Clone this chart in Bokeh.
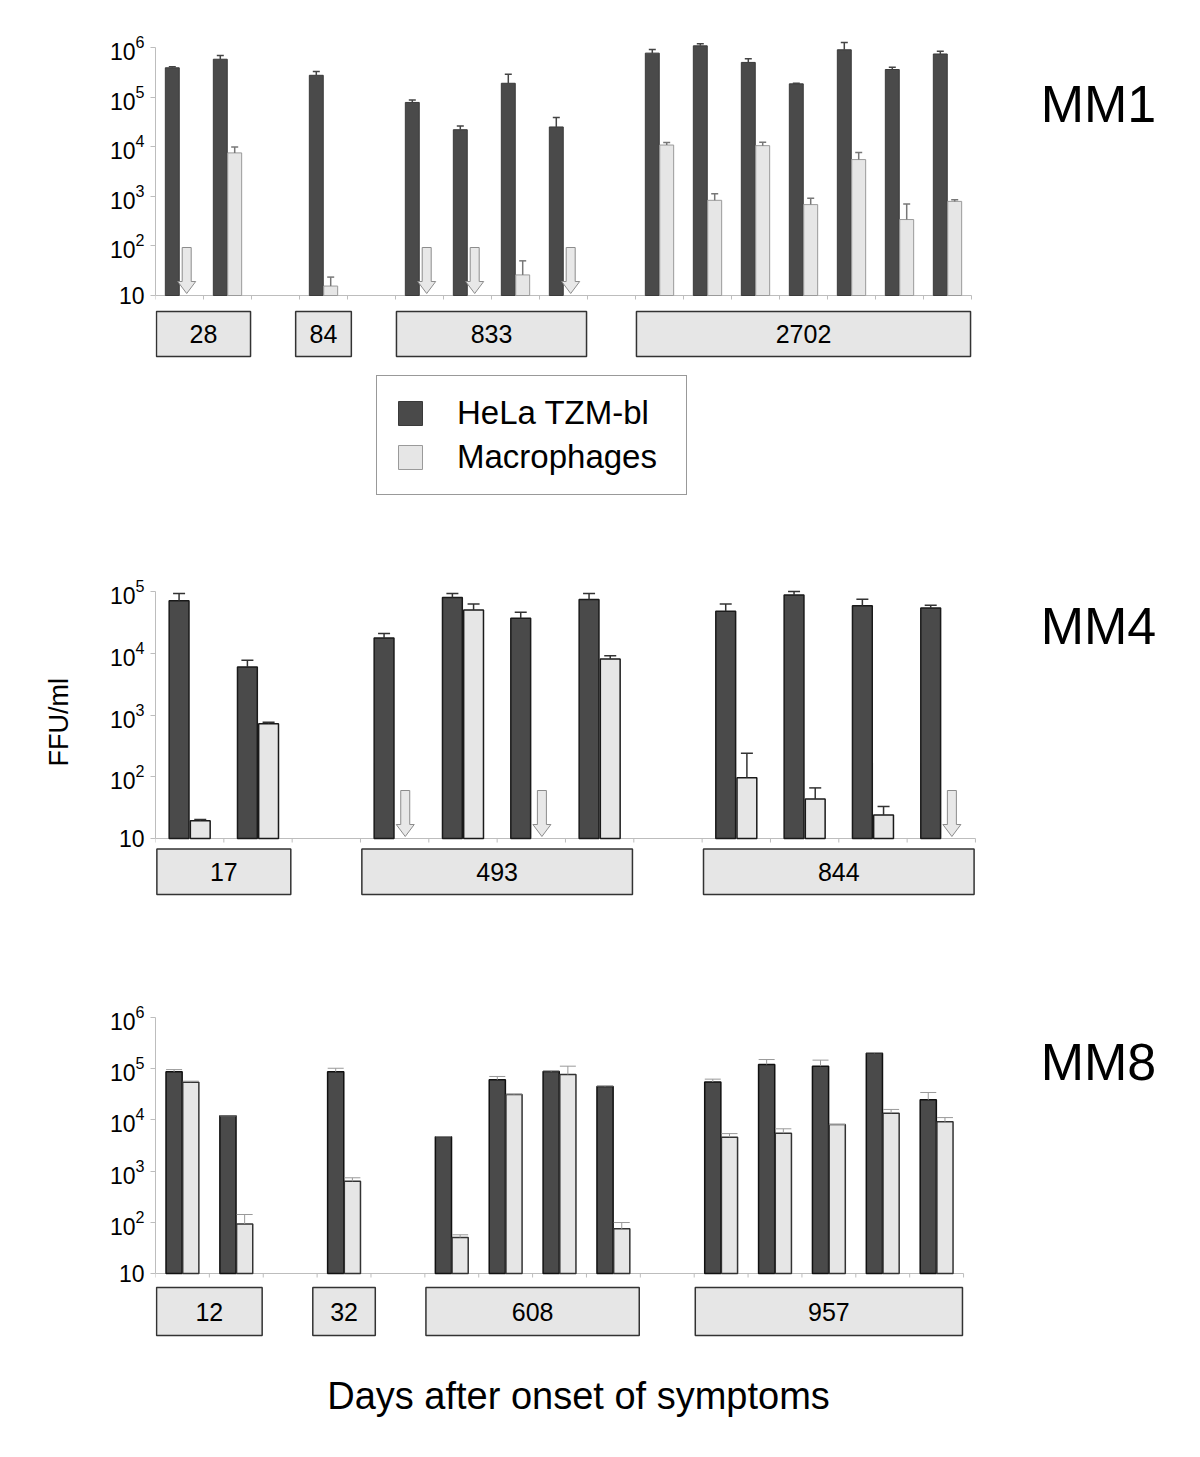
import math
from bokeh.plotting import figure
from bokeh.layouts import column
from bokeh.models import Range1d, Legend, LegendItem, Title
from bokeh.core.properties import value
from bokeh.embed import file_html
from bokeh.resources import INLINE

NAN = float("nan")

# ---------------- data ----------------
series_names = ["HeLa TZM-bl", "Macrophages"]
y_title = "FFU/ml"
x_title = "Days after onset of symptoms"
panel_names = ["MM1", "MM4", "MM8"]

# MM1  (NaN = below detection, drawn as a down arrow)
mm1_slots = [0, 1, 3, 5, 6, 7, 8, 10, 11, 12, 13, 14, 15, 16]
mm1_hela = [3.9e5, 5.8e5, 2.75e5, 7.8e4, 2.2e4, 1.9e5, 2.5e4, 7.7e5, 1.08e6, 5.0e5, 1.85e5, 9.0e5, 3.6e5, 7.4e5]
mm1_hela_err = [4.1e5, 6.9e5, 3.3e5, 8.7e4, 2.6e4, 2.9e5, 3.9e4, 9.1e5, 1.19e6, 5.9e5, 1.9e5, 1.26e6, 4.0e5, 8.4e5]
mm1_mac = [NAN, 7.5e3, 15.5, NAN, NAN, 26, NAN, 1.08e4, 8.3e2, 1.05e4, 6.8e2, 5.5e3, 3.4e2, 7.9e2]
mm1_mac_err = [NAN, 9.9e3, 23.5, NAN, NAN, 50, NAN, 1.21e4, 1.13e3, 1.23e4, 9.1e2, 7.6e3, 7.0e2, 8.5e2]
mm1_groups = ["28", "84", "833", "2702"]
mm1_group_start = [0, 3, 5, 10]
mm1_group_end = [2, 4, 9, 17]
mm1_n_slots = 17
mm1_top_exp = 6

# MM4
mm4_slots = [0, 1, 3, 4, 5, 6, 8, 9, 10, 11]
mm4_hela = [7.1e4, 6.0e3, 1.77e4, 8.0e4, 3.7e4, 7.4e4, 4.8e4, 8.8e4, 5.9e4, 5.4e4]
mm4_hela_err = [9.3e4, 7.7e3, 2.08e4, 9.3e4, 4.6e4, 9.3e4, 6.3e4, 1.0e5, 7.5e4, 6.0e4]
mm4_mac = [19.3, 7.2e2, NAN, 5.0e4, NAN, 8.1e3, 96, 43.5, 24, NAN]
mm4_mac_err = [20.3, 7.6e2, NAN, 6.3e4, NAN, 9.1e3, 2.4e2, 66, 33, NAN]
mm4_groups = ["17", "493", "844"]
mm4_group_start = [0, 3, 8]
mm4_group_end = [2, 7, 12]
mm4_n_slots = 12
mm4_top_exp = 5

# MM8
mm8_slots = [0, 1, 3, 5, 6, 7, 8, 10, 11, 12, 13, 14]
mm8_hela = [8.7e4, 1.2e4, 8.7e4, 4.7e3, 6.1e4, 8.8e4, 4.5e4, 5.5e4, 1.21e5, 1.12e5, 2.0e5, 2.47e4]
mm8_hela_err = [9.6e4, 1.2e4, 1.02e5, 4.7e3, 7.05e4, 9.1e4, 4.6e4, 6.25e4, 1.51e5, 1.47e5, 2.05e5, 3.43e4]
mm8_mac = [5.46e4, 93, 6.3e2, 50.5, 3.13e4, 7.7e4, 74.5, 4.6e3, 5.5e3, 8.1e3, 1.35e4, 9.2e3]
mm8_mac_err = [5.7e4, 142, 7.4e2, 57, 3.2e4, 1.12e5, 99, 5.4e3, 6.7e3, 8.1e3, 1.6e4, 1.11e4]
mm8_groups = ["12", "32", "608", "957"]
mm8_group_start = [0, 3, 5, 10]
mm8_group_end = [2, 4, 9, 15]
mm8_n_slots = 15
mm8_top_exp = 6

# ---------------- layout constants ----------------
FONT = "Liberation Sans"
W = 1184
LEFT = 155
RIGHT = 8
FRAME_W = W - LEFT - RIGHT
PAGE = 0
PAD = 12
DARK = "#4a4a4a"
LIGHT = "#e6e6e6"
AXIS_GREY = "#bdbdbd"


def make_panel(name, slots, hela, hela_err, mac, mac_err, n_slots, top_exp,
               groups, gs, ge, lay, sty):
    pps = lay["pps"]
    ppd = lay["axis_h"] / (top_exp - 1)
    axis_y = lay["tick_top"] + lay["axis_h"]          # page y of the value 10
    top_border = lay["tick_top"] - PAD - lay["page_top"]
    height = lay["page_bottom"] - lay["page_top"]

    def px_x(px):
        return (px - PAGE - LEFT) / pps

    def px_y(py):
        return 10 ** (1 + (axis_y - py) / ppd)

    xr = Range1d(0, FRAME_W / pps)
    yr = Range1d(px_y(lay["page_bottom"]), px_y(lay["tick_top"] - PAD))
    p = figure(width=W, height=height, x_range=xr, y_range=yr, y_axis_type="log",
               x_axis_type=None, title=None, output_backend="svg", toolbar_location=None,
               min_border_left=LEFT, min_border_right=RIGHT,
               min_border_top=top_border, min_border_bottom=0,
               outline_line_color=None, background_fill_color="white",
               border_fill_color="white")
    p.xgrid.visible = False
    p.ygrid.visible = False
    ya = p.yaxis[0]
    ya.bounds = (10, 10 ** top_exp)
    ya.formatter.min_exponent = 2
    ya.major_label_text_font = FONT
    ya.major_label_text_font_size = "23px"
    ya.major_label_text_color = "black"
    ya.major_label_standoff = 6
    ya.axis_line_color = AXIS_GREY
    ya.major_tick_line_color = AXIS_GREY
    ya.major_tick_out = 5
    ya.major_tick_in = 0
    ya.minor_tick_line_color = None

    # x axis line and slot ticks
    p.segment(x0=[0], y0=[10], x1=[n_slots], y1=[10], line_color=AXIS_GREY, line_width=1.2)
    tk = list(range(n_slots + 1))
    p.segment(x0=tk, y0=[10] * len(tk), x1=tk, y1=[px_y(axis_y + 4)] * len(tk),
              line_color=AXIS_GREY, line_width=1)

    off = sty["off"]
    bw = sty["bar_w"]
    cap = sty["cap_px"] / pps / 2
    xd = [s + 0.5 - off for s in slots]
    xl = [s + 0.5 + off for s in slots]

    rd = p.vbar(x=xd, top=hela, bottom=10, width=bw, fill_color=DARK,
                line_color=sty["dark_line"], line_width=sty["lw"])
    mx = [x for x, v in zip(xl, mac) if not math.isnan(v)]
    mv = [v for v in mac if not math.isnan(v)]
    me = [e for e in mac_err if not math.isnan(e)]
    rl = p.vbar(x=mx, top=mv, bottom=10, width=bw, fill_color=LIGHT,
                line_color=sty["light_line"], line_width=sty["lw"])

    # error bars (upper only)
    p.segment(x0=xd, y0=hela, x1=xd, y1=hela_err, line_color=sty["err_dark"], line_width=sty["err_w"])
    p.segment(x0=[x - cap for x in xd], y0=hela_err, x1=[x + cap for x in xd], y1=hela_err,
              line_color=sty["err_dark"], line_width=sty["err_w"])
    p.segment(x0=mx, y0=mv, x1=mx, y1=me, line_color=sty["err_light"], line_width=sty["err_w"])
    p.segment(x0=[x - cap for x in mx], y0=me, x1=[x + cap for x in mx], y1=me,
              line_color=sty["err_light"], line_width=sty["err_w"])

    # not-detected arrows
    ax = [x for x, v in zip(xl, mac) if math.isnan(v)]
    shape = [(-4.5, 48), (4.5, 48), (4.5, 14), (9, 14), (0, 2), (-9, 14), (-4.5, 14)]
    xs = [[x + dx / pps for dx, dy in shape] for x in ax]
    ys = [[px_y(axis_y - dy) for dx, dy in shape] for x in ax]
    if xs:
        p.patches(xs=xs, ys=ys, fill_color="#e8e8e8", line_color="#8c8c8c", line_width=1)

    # group boxes under the axis
    bt, bb = lay["box"]
    left = [s - 0.08 if e - s == 1 else s + 0.02 for s, e in zip(gs, ge)]
    right = [e + 0.08 if e - s == 1 else e - 0.02 for s, e in zip(gs, ge)]
    p.quad(left=left, right=right, top=[px_y(bt)] * len(groups), bottom=[px_y(bb)] * len(groups),
           fill_color=LIGHT, line_color="#333333", line_width=1.5)
    p.text(x=[(l + r) / 2 for l, r in zip(left, right)], y=[px_y((bt + bb) / 2)] * len(groups),
           text=groups, text_font=value(FONT), text_font_size="25px",
           text_align="center", text_baseline="middle", text_color="black")

    # panel title
    p.text(x=[px_x(lay["title"][0])], y=[px_y(lay["title"][1])], text=[name],
           text_font=value(FONT), text_font_size="52px",
           text_align="center", text_baseline="middle", text_color="black")
    return p, rd, rl, px_x, px_y


sty1 = dict(off=0.15, bar_w=0.29, cap_px=7, dark_line="#3a3a3a", light_line="#9a9a9a",
            lw=1, err_dark="#444444", err_light="#777777", err_w=1.5)
sty4 = dict(off=0.155, bar_w=0.29, cap_px=12, dark_line="#1a1a1a", light_line="#1a1a1a",
            lw=1.5, err_dark="#333333", err_light="#333333", err_w=1.5)
sty8 = dict(off=0.155, bar_w=0.3, cap_px=16, dark_line="#111111", light_line="#333333",
            lw=1.5, err_dark="#999999", err_light="#999999", err_w=1)

lay1 = dict(page_top=0, page_bottom=520, tick_top=47, axis_h=248, pps=48.0,
            title=(1098, 103), box=(311, 356))
lay4 = dict(page_top=520, page_bottom=960, tick_top=591, axis_h=247, pps=68.33,
            title=(1098, 625), box=(848.5, 894))
lay8 = dict(page_top=960, page_bottom=1430, tick_top=1017, axis_h=256, pps=53.87,
            title=(1098, 1061), box=(1287, 1335))

p1, rd1, rl1, _, _ = make_panel(panel_names[0], mm1_slots, mm1_hela, mm1_hela_err, mm1_mac,
                                mm1_mac_err, mm1_n_slots, mm1_top_exp, mm1_groups,
                                mm1_group_start, mm1_group_end, lay1, sty1)

# legend (box at page x 376..685, y 375..495)
leg = Legend(items=[LegendItem(label=series_names[0], renderers=[rd1]),
                    LegendItem(label=series_names[1], renderers=[rl1])],
             location=(376 - PAGE - LEFT, lay1["page_bottom"] - 495), orientation="vertical",
             border_line_color="#333333", border_line_width=1.2,
             background_fill_color="white", background_fill_alpha=1,
             padding=18, margin=0, spacing=6,
             glyph_width=30, glyph_height=30, label_standoff=32, label_width=211,
             label_text_font=FONT, label_text_font_size="33px", label_text_color="black")
p1.add_layout(leg)

p4, _, _, px_x4, px_y4 = make_panel(panel_names[1], mm4_slots, mm4_hela, mm4_hela_err, mm4_mac,
                                    mm4_mac_err, mm4_n_slots, mm4_top_exp, mm4_groups,
                                    mm4_group_start, mm4_group_end, lay4, sty4)
# y title: starts (text-left) at page y ~766 and runs upward
p4.add_layout(Title(text=y_title, align="left", offset=lay4["page_bottom"] - 766, standoff=65,
                    text_font=FONT, text_font_size="27px", text_font_style="normal",
                    text_color="black"), "left")

p8, _, _, px_x8, px_y8 = make_panel(panel_names[2], mm8_slots, mm8_hela, mm8_hela_err, mm8_mac,
                                    mm8_mac_err, mm8_n_slots, mm8_top_exp, mm8_groups,
                                    mm8_group_start, mm8_group_end, lay8, sty8)
p8.text(x=[px_x8(578)], y=[px_y8(1395)], text=[x_title], text_font=value(FONT),
        text_font_size="38px", text_align="center", text_baseline="middle", text_color="black")

layout = column(p1, p4, p8, spacing=0)

with open("out.html", "w") as f:
    f.write(file_html(layout, INLINE))
